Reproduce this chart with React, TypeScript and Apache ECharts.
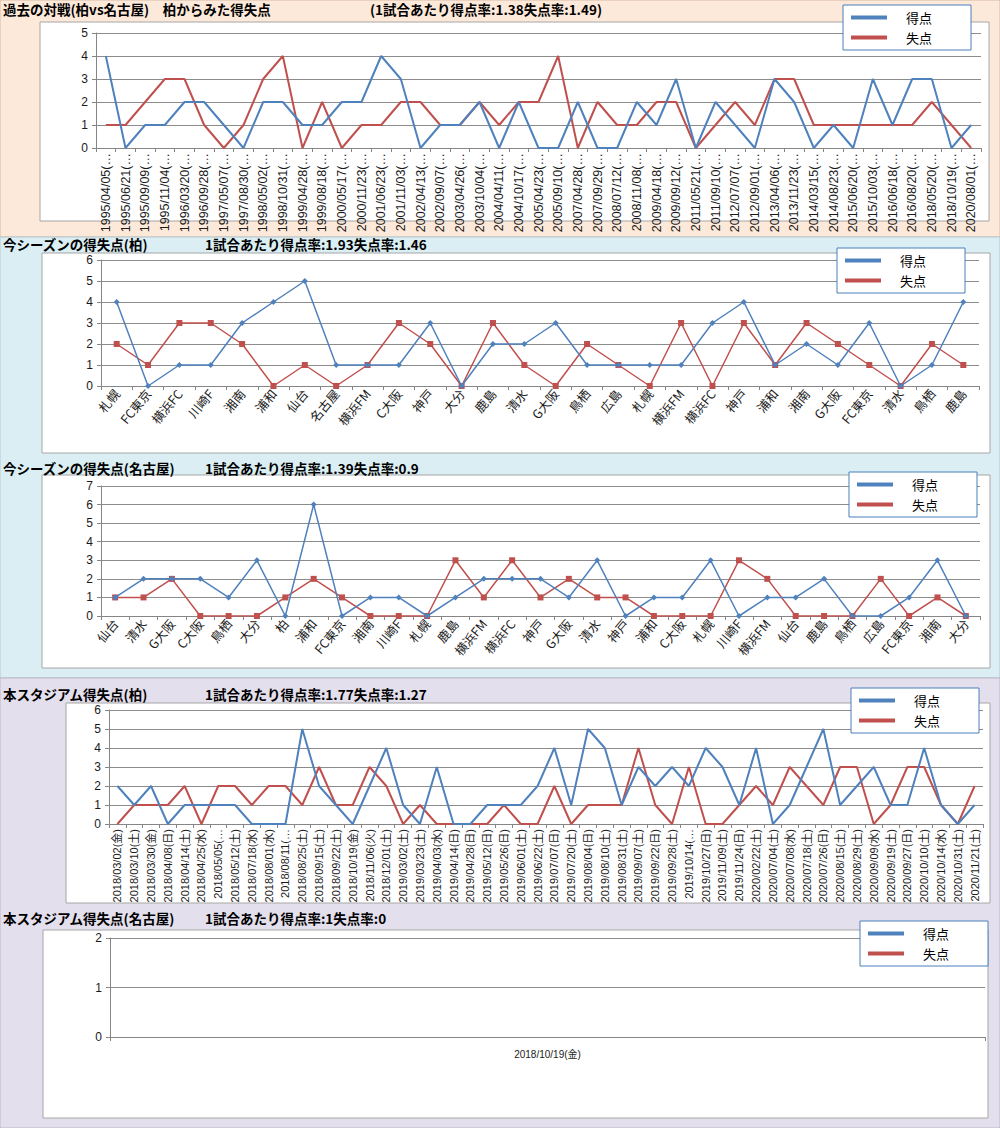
import React, { useEffect, useRef } from "react";
import * as echarts from "echarts";

const BLUE = "#4F81BD";
const RED = "#C0504D";
const CJK = '"Noto Sans CJK JP", sans-serif';
const LAT = '"Liberation Sans", "Noto Sans CJK JP", sans-serif';

// Panel 1: head-to-head history (Kashiwa vs Nagoya)
const h2hDates = [
  "1995/04/05", "1995/06/21", "1995/09/09", "1995/11/04", "1996/03/20", "1996/09/28",
  "1997/05/07", "1997/08/30", "1998/05/02", "1998/10/31", "1999/04/28", "1999/08/18",
  "2000/05/17", "2000/11/23", "2001/06/23", "2001/11/03", "2002/04/13", "2002/09/07",
  "2003/04/26", "2003/10/04", "2004/04/11", "2004/10/17", "2005/04/23", "2005/09/10",
  "2007/04/28", "2007/09/29", "2008/07/12", "2008/11/08", "2009/04/18", "2009/09/12",
  "2011/05/21", "2011/09/10", "2012/07/07", "2012/09/01", "2013/04/06", "2013/11/23",
  "2014/03/15", "2014/08/23", "2015/06/20", "2015/10/03", "2016/06/18", "2016/08/20",
  "2018/05/20", "2018/10/19", "2020/08/01",
];
const h2hFor = [4, 0, 1, 1, 2, 2, 1, 0, 2, 2, 1, 1, 2, 2, 4, 3, 0, 1, 1, 2, 0, 2, 0, 0, 2, 0, 0, 2, 1, 3, 0, 2, 1, 0, 3, 2, 0, 1, 0, 3, 1, 3, 3, 0, 1];
const h2hAgainst = [1, 1, 2, 3, 3, 1, 0, 1, 3, 4, 0, 2, 0, 1, 1, 2, 2, 1, 1, 2, 1, 2, 2, 4, 0, 2, 1, 1, 2, 2, 0, 1, 2, 1, 3, 3, 1, 1, 1, 1, 1, 1, 2, 1, 0];

// Panel 2: this season (Kashiwa)
const kashiwaOpponents = ["札幌", "FC東京", "横浜FC", "川崎F", "湘南", "浦和", "仙台", "名古屋", "横浜FM", "C大阪", "神戸", "大分", "鹿島", "清水", "G大阪", "鳥栖", "広島", "札幌", "横浜FM", "横浜FC", "神戸", "浦和", "湘南", "G大阪", "FC東京", "清水", "鳥栖", "鹿島"];
const kashiwaFor = [4, 0, 1, 1, 3, 4, 5, 1, 1, 1, 3, 0, 2, 2, 3, 1, 1, 1, 1, 3, 4, 1, 2, 1, 3, 0, 1, 4];
const kashiwaAgainst = [2, 1, 3, 3, 2, 0, 1, 0, 1, 3, 2, 0, 3, 1, 0, 2, 1, 0, 3, 0, 3, 1, 3, 2, 1, 0, 2, 1];

// Panel 3: this season (Nagoya)
const nagoyaOpponents = ["仙台", "清水", "G大阪", "C大阪", "鳥栖", "大分", "柏", "浦和", "FC東京", "湘南", "川崎F", "札幌", "鹿島", "横浜FM", "横浜FC", "神戸", "G大阪", "清水", "神戸", "浦和", "C大阪", "札幌", "川崎F", "横浜FM", "仙台", "鹿島", "鳥栖", "広島", "FC東京", "湘南", "大分"];
const nagoyaFor = [1, 2, 2, 2, 1, 3, 0, 6, 0, 1, 1, 0, 1, 2, 2, 2, 1, 3, 0, 1, 1, 3, 0, 1, 1, 2, 0, 0, 1, 3, 0];
const nagoyaAgainst = [1, 1, 2, 0, 0, 0, 1, 2, 1, 0, 0, 0, 3, 1, 3, 1, 2, 1, 1, 0, 0, 0, 3, 2, 0, 0, 0, 2, 0, 1, 0];

// Panel 4: this stadium (Kashiwa)
const stadiumDates = [
  "2018/03/02(金)", "2018/03/10(土)", "2018/03/30(金)", "2018/04/08(日)", "2018/04/14(土)", "2018/04/25(水)",
  "2018/05/05(…", "2018/05/12(土)", "2018/07/18(水)", "2018/08/01(水)", "2018/08/11(…", "2018/08/25(土)",
  "2018/09/15(土)", "2018/09/22(土)", "2018/10/19(金)", "2018/11/06(火)", "2018/12/01(土)", "2019/03/02(土)",
  "2019/03/23(土)", "2019/04/03(水)", "2019/04/14(日)", "2019/04/28(日)", "2019/05/12(日)", "2019/05/26(日)",
  "2019/06/01(土)", "2019/06/22(土)", "2019/07/07(日)", "2019/07/20(土)", "2019/08/04(日)", "2019/08/10(土)",
  "2019/08/31(土)", "2019/09/07(土)", "2019/09/22(日)", "2019/09/28(土)", "2019/10/14(…", "2019/10/27(日)",
  "2019/11/09(土)", "2019/11/24(日)", "2020/02/22(土)", "2020/07/04(土)", "2020/07/08(水)", "2020/07/18(土)",
  "2020/07/26(日)", "2020/08/15(土)", "2020/08/29(土)", "2020/09/09(水)", "2020/09/19(土)", "2020/09/27(日)",
  "2020/10/10(土)", "2020/10/14(水)", "2020/10/31(土)", "2020/11/21(土)",
];
const stadiumFor = [2, 1, 2, 0, 1, 1, 1, 1, 0, 0, 0, 5, 2, 1, 0, 2, 4, 1, 0, 3, 0, 0, 1, 1, 1, 2, 4, 1, 5, 4, 1, 3, 2, 3, 2, 4, 3, 1, 4, 0, 1, 3, 5, 1, 2, 3, 1, 1, 4, 1, 0, 1];
const stadiumAgainst = [0, 1, 1, 1, 2, 0, 2, 2, 1, 2, 2, 1, 3, 1, 1, 3, 2, 0, 1, 0, 0, 0, 0, 1, 0, 0, 2, 0, 1, 1, 1, 4, 1, 0, 3, 0, 0, 1, 2, 1, 3, 2, 1, 3, 3, 0, 1, 3, 3, 1, 0, 2];

// Panel 5: this stadium (Nagoya)
const nagoyaStadiumDates = ["2018/10/19(金)"];
const nagoyaStadiumFor = [1];
const nagoyaStadiumAgainst = [0];

const titleLeft = ["過去の対戦(柏vs名古屋)　柏からみた得失点", "今シーズンの得失点(柏)", "今シーズンの得失点(名古屋)", "本スタジアム得失点(柏)", "本スタジアム得失点(名古屋)"];
const titleRight = ["(1試合あたり得点率:1.38失点率:1.49)", "1試合あたり得点率:1.93失点率:1.46", "1試合あたり得点率:1.39失点率:0.9", "1試合あたり得点率:1.77失点率:1.27", "1試合あたり得点率:1失点率:0"];

const panels = [
  { cats: h2hDates.map((d) => d + "(…"), f: h2hFor, a: h2hAgainst, grid: { left: 96, top: 33, width: 885, height: 115 }, yMax: 5, rotate: 90, font: LAT, fs: 12.5, marks: false, lw: 2, legend: { left: 843, top: 5 }, title: { y: 9, x2: 370 }, box: [40, 22, 949, 199] },
  { cats: kashiwaOpponents, f: kashiwaFor, a: kashiwaAgainst, grid: { left: 101, top: 260, width: 878, height: 126 }, yMax: 6, rotate: 50, font: CJK, fs: 12.5, marks: true, lw: 1.5, legend: { left: 837, top: 248 }, title: { y: 244, x2: 205 }, box: [42, 253, 948, 200] },
  { cats: nagoyaOpponents, f: nagoyaFor, a: nagoyaAgainst, grid: { left: 101, top: 486, width: 879, height: 130 }, yMax: 7, rotate: 50, font: CJK, fs: 12.5, marks: true, lw: 1.5, legend: { left: 849, top: 472 }, title: { y: 468, x2: 205 }, box: [42, 475, 948, 193] },
  { cats: stadiumDates, f: stadiumFor, a: stadiumAgainst, grid: { left: 109, top: 710, width: 874, height: 114 }, yMax: 6, rotate: 90, font: LAT, fs: 11, marks: false, lw: 2, legend: { left: 851, top: 688 }, title: { y: 694, x2: 205 }, box: [66, 703, 924, 200] },
  { cats: nagoyaStadiumDates, f: nagoyaStadiumFor, a: nagoyaStadiumAgainst, grid: { left: 110, top: 938, width: 875, height: 99 }, yMax: 2, rotate: 0, font: LAT, fs: 10, marks: false, lw: 2, legend: { left: 860, top: 921 }, title: { y: 918, x2: 205 }, box: [43, 930, 945, 188] },
];

export default function App() {
  const ref = useRef<HTMLDivElement>(null);
  useEffect(() => {
    if (!ref.current) return;
    const chart = echarts.init(ref.current, undefined, { renderer: "svg" });
    const graphics: any[] = [
      { type: "rect", z: -10, shape: { x: 0, y: 0, width: 1000, height: 237 }, style: { fill: "#FDE9D9", stroke: "#D8B9A6", lineWidth: 1 } },
      { type: "rect", z: -10, shape: { x: 0, y: 237, width: 1000, height: 441 }, style: { fill: "#DAEEF3", stroke: "#B3C8CF", lineWidth: 1 } },
      { type: "rect", z: -10, shape: { x: 0, y: 678, width: 1000, height: 450 }, style: { fill: "#E4DFEC", stroke: "#BDB6C8", lineWidth: 1 } },
    ];
    panels.forEach((p, i) => {
      graphics.push({ type: "rect", z: -9, shape: { x: p.box[0], y: p.box[1], width: p.box[2], height: p.box[3] }, style: { fill: "#FFFFFF", stroke: "#A6A6A6", lineWidth: 1 } });
      graphics.push({ type: "text", z: 5, style: { text: titleLeft[i], x: 3, y: p.title.y, verticalAlign: "middle", fill: "#000", fontSize: 13.5, fontWeight: "bold", fontFamily: CJK } });
      graphics.push({ type: "text", z: 5, style: { text: titleRight[i], x: p.title.x2, y: p.title.y, verticalAlign: "middle", fill: "#000", fontSize: 13.5, fontWeight: "bold", fontFamily: CJK } });
    });

    const option: any = {
      animation: false,
      graphic: graphics,
      grid: panels.map((p) => ({ ...p.grid, containLabel: false })),
      xAxis: panels.map((p, i) => ({
        type: "category",
        gridIndex: i,
        data: p.cats,
        boundaryGap: true,
        axisLine: { lineStyle: { color: "#868686" } },
        axisTick: { show: true, length: 4, lineStyle: { color: "#868686" } },
        axisLabel: { interval: 0, rotate: p.rotate, fontSize: p.fs, fontFamily: p.font, color: "#1a1a1a", margin: p.rotate === 0 ? 12 : 5 },
      })),
      yAxis: panels.map((p, i) => ({
        type: "value",
        gridIndex: i,
        min: 0,
        max: p.yMax,
        interval: 1,
        axisLine: { show: true, lineStyle: { color: "#868686" } },
        axisTick: { show: true, length: 4, lineStyle: { color: "#868686" } },
        splitLine: { show: true, lineStyle: { color: "#8C8C8C", width: 1 } },
        axisLabel: { fontSize: 12, fontFamily: LAT, color: "#1a1a1a", margin: 8 },
      })),
      legend: panels.map((p) => ({
        data: ["得点", "失点"],
        orient: "vertical",
        left: p.legend.left,
        top: p.legend.top,
        backgroundColor: "#FFFFFF",
        borderColor: "#4A7EBB",
        borderWidth: 1,
        padding: [6, 39, 6, 8],
        itemGap: 7,
        itemWidth: 36,
        itemHeight: 4,
        icon: "rect",
        selectedMode: false,
        textStyle: { fontSize: 13, fontFamily: CJK, color: "#000", padding: [0, 0, 0, 14] },
      })),
      series: panels.flatMap((p, i) => [
        {
          type: "line",
          name: "得点",
          xAxisIndex: i,
          yAxisIndex: i,
          data: p.f,
          showSymbol: p.marks,
          symbol: "diamond",
          symbolSize: 6,
          lineStyle: { color: BLUE, width: p.lw },
          itemStyle: { color: BLUE },
          z: 3,
        },
        {
          type: "line",
          name: "失点",
          xAxisIndex: i,
          yAxisIndex: i,
          data: p.a,
          showSymbol: p.marks,
          symbol: "rect",
          symbolSize: 6,
          lineStyle: { color: RED, width: p.lw },
          itemStyle: { color: RED },
          z: 2,
        },
      ]),
    };
    chart.setOption(option);
    return () => chart.dispose();
  }, []);
  return <div ref={ref} style={{ position: "absolute", left: 0, top: 0, width: 1000, height: 1128 }} />;
}
